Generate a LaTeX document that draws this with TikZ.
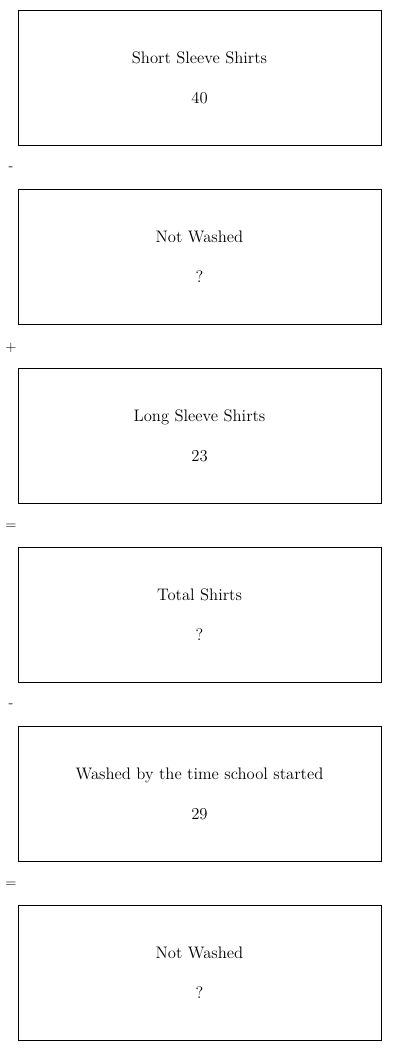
\documentclass[tikz,border=0pt]{standalone}
\usetikzlibrary{positioning}
\tikzset{
  shirtbox/.style={draw,line width=0.75pt,minimum width=272.25pt,minimum height=101.25pt,
    align=center,inner sep=0pt,font=\fontsize{12.5}{15}\selectfont},
  opsign/.style={inner sep=0pt,font=\fontsize{11}{13.6}\selectfont}
}
\begin{document}
\begin{tikzpicture}[x=0.75pt,y=-0.75pt]
  \useasboundingbox (0,0) rectangle (400,1051);
  % boxes, top to bottom
  \node[shirtbox] (short) at (199.5,77.5) {Short Sleeve Shirts\\[15pt]40};
  \node[shirtbox,below=32.25pt of short] (notwashA) {Not Washed\\[15pt]?};
  \node[shirtbox,below=32.25pt of notwashA] (long) {Long Sleeve Shirts\\[15pt]23};
  \node[shirtbox,below=32.25pt of long] (total) {Total Shirts\\[15pt]?};
  \node[shirtbox,below=32.25pt of total] (washed) {Washed by the time school started\\[15pt]29};
  \node[shirtbox,below=32.25pt of washed] (notwashB) {Not Washed\\[15pt]?};
  % operators between the boxes
  \node[opsign] (opA) at (11,169) {-};
  \node[opsign] (opB) at (11,348) {+};
  \node[opsign] (opC) at (11,527) {=};
  \node[opsign] (opD) at (11,706) {-};
  \node[opsign] (opE) at (11,885) {=};
\end{tikzpicture}
\end{document}
